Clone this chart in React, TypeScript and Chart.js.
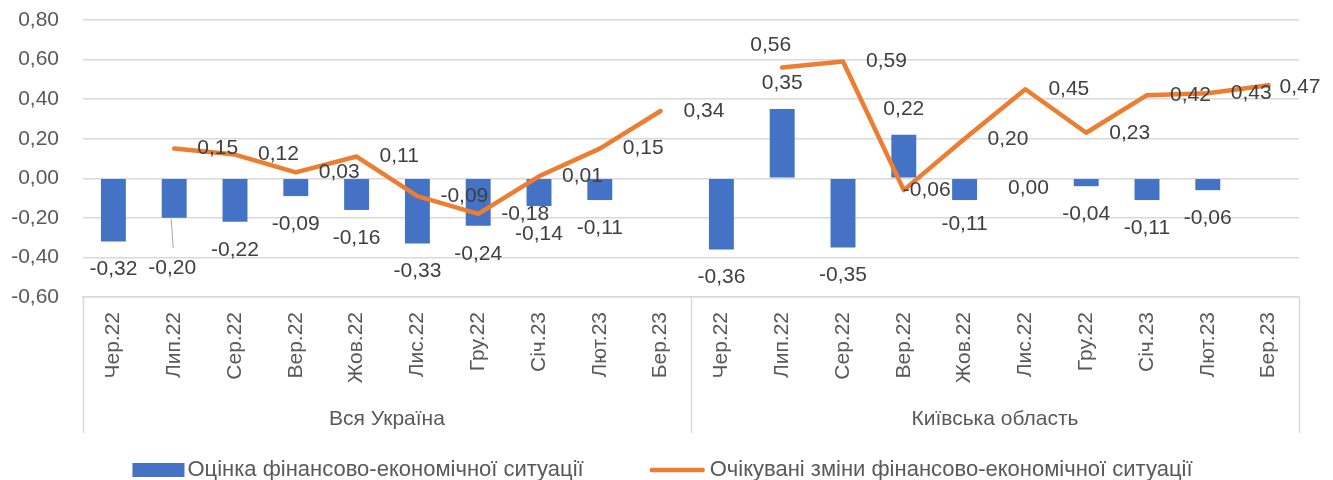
import React, { useEffect, useRef } from "react";
import { Chart, registerables } from "chart.js";

Chart.register(...registerables);

// ---- data ----
const months = ["Чер.22", "Лип.22", "Сер.22", "Вер.22", "Жов.22", "Лис.22", "Гру.22", "Січ.23", "Лют.23", "Бер.23"];
const groups = ["Вся Україна", "Київська область"];
const assessmentUkraine = [-0.32, -0.2, -0.22, -0.09, -0.16, -0.33, -0.24, -0.14, -0.11, null];
const assessmentKyiv = [-0.36, 0.35, -0.35, 0.22, -0.11, 0.0, -0.04, -0.11, -0.06, null];
const expectedUkraine = [null, 0.15, 0.12, 0.03, 0.11, -0.09, -0.18, 0.01, 0.15, 0.34];
const expectedKyiv = [null, 0.56, 0.59, -0.06, 0.2, 0.45, 0.23, 0.42, 0.43, 0.47];
const seriesNames = ["Оцінка фінансово-економічної ситуації", "Очікувані зміни фінансово-економічної ситуації"];
const yMin = -0.6;
const yMax = 0.8;
const yStep = 0.2;

// ---- styles ----
const FONT = "'Liberation Sans', Arial, sans-serif";
const BLUE = "#4472C4";
const ORANGE = "#ED7D31";
const GRID = "#D9D9D9";
const TICK = "#595959";
const LABEL = "#404040";

// label nudges (pixel offsets from default positions)
const barNudge: Record<number, [number, number]> = { 1: [-2, 22], 15: [3, -18], 14: [0, -4] };
const lineNudge: Record<number, [number, number]> = { 11: [-55, -22], 13: [-24, 0], 19: [-12, 2] };

const fmt = (v: number) => v.toFixed(2).replace(".", ",");

const overlayPlugin = {
  id: "overlay",
  afterDatasetsDraw(chart: any) {
    const ctx = chart.ctx;
    ctx.save();
    ctx.font = `21px ${FONT}`;
    ctx.fillStyle = LABEL;
    ctx.textBaseline = "middle";
    // bar labels
    const barData = chart.data.datasets[0].data;
    chart.getDatasetMeta(0).data.forEach((el: any, i: number) => {
      const v = barData[i];
      if (v == null) return;
      let cx = el.x;
      let cy = v > 0 ? el.y - 26 : el.y + 28;
      const n = barNudge[i];
      if (n) {
        cx += n[0];
        cy += n[1];
      }
      ctx.textAlign = "center";
      ctx.fillText(fmt(v), cx, cy);
      if (i === 1) {
        ctx.save();
        ctx.strokeStyle = "#A6A6A6";
        ctx.lineWidth = 1;
        ctx.beginPath();
        ctx.moveTo(cx + 1, cy - 20);
        ctx.lineTo(el.x - 3, el.y + 1);
        ctx.stroke();
        ctx.restore();
      }
    });
    // line labels
    const lineData = chart.data.datasets[1].data;
    chart.getDatasetMeta(1).data.forEach((el: any, i: number) => {
      const v = lineData[i];
      if (v == null) return;
      const t = fmt(v);
      const w = ctx.measureText(t).width;
      let cx = el.x + 23 + w / 2;
      let cy = el.y;
      const n = lineNudge[i];
      if (n) {
        cx += n[0];
        cy += n[1];
      }
      ctx.textAlign = "center";
      ctx.fillText(t, cx, cy);
    });
    ctx.restore();
  },
  afterDraw(chart: any) {
    const ctx = chart.ctx;
    const { chartArea } = chart;
    const xs = chart.scales.x;
    const n = months.length;
    const total = xs.ticks.length;
    const step = (chartArea.right - chartArea.left) / total;
    ctx.save();
    // group dividers
    ctx.strokeStyle = GRID;
    ctx.lineWidth = 1.5;
    for (let g = 0; g <= groups.length; g++) {
      const x = Math.round(chartArea.left + g * n * step) + 0.5;
      ctx.beginPath();
      ctx.moveTo(x, chartArea.bottom);
      ctx.lineTo(x, 433);
      ctx.stroke();
    }
    // group labels
    ctx.font = `21px ${FONT}`;
    ctx.fillStyle = TICK;
    ctx.textAlign = "center";
    ctx.textBaseline = "middle";
    groups.forEach((g, gi) => {
      const cx = chartArea.left + (gi * n + n / 2) * step;
      ctx.fillText(g, cx, 419);
    });
    // legend
    ctx.font = `22px ${FONT}`;
    const w1 = ctx.measureText(seriesNames[0]).width;
    const w2 = ctx.measureText(seriesNames[1]).width;
    const boxW = 52, gap1 = 3, itemGap = 66, lineW = 55, gap2 = 5;
    const totalW = boxW + gap1 + w1 + itemGap + lineW + gap2 + w2;
    let x0 = (chart.width - totalW) / 2 - 4;
    const ly = 470;
    ctx.fillStyle = BLUE;
    ctx.fillRect(x0, ly - 7, boxW, 14);
    ctx.fillStyle = TICK;
    ctx.textAlign = "left";
    ctx.fillText(seriesNames[0], x0 + boxW + gap1, ly);
    x0 += boxW + gap1 + w1 + itemGap;
    ctx.strokeStyle = ORANGE;
    ctx.lineWidth = 4.5;
    ctx.lineCap = "round";
    ctx.beginPath();
    ctx.moveTo(x0 + 2, ly);
    ctx.lineTo(x0 + lineW - 2, ly);
    ctx.stroke();
    ctx.fillStyle = TICK;
    ctx.fillText(seriesNames[1], x0 + lineW + gap2, ly);
    ctx.restore();
  },
};

export default function App() {
  const ref = useRef<HTMLCanvasElement | null>(null);
  useEffect(() => {
    document.body.style.margin = "0";
    const canvas = ref.current;
    if (!canvas) return;
    const labels = groups.flatMap(() => months);
    const chart = new Chart(canvas, {
      type: "bar",
      data: {
        labels,
        datasets: [
          {
            type: "bar",
            label: seriesNames[0],
            data: [...assessmentUkraine, ...assessmentKyiv],
            backgroundColor: BLUE,
            barPercentage: 0.41,
            categoryPercentage: 1,
            order: 1,
          },
          {
            type: "line",
            label: seriesNames[1],
            data: [...expectedUkraine, ...expectedKyiv],
            borderColor: ORANGE,
            backgroundColor: ORANGE,
            borderWidth: 4.5,
            pointRadius: 0,
            tension: 0,
            spanGaps: false,
            borderJoinStyle: "round",
            borderCapStyle: "round",
            order: 0,
          },
        ] as any,
      },
      options: {
        animation: false,
        responsive: false,
        devicePixelRatio: 1,
        layout: { padding: { top: 20, right: 34, left: 0, bottom: 0 } },
        plugins: {
          legend: { display: false },
          tooltip: { enabled: false },
        },
        scales: {
          x: {
            offset: true,
            grid: { display: false, drawTicks: false },
            border: { display: true, color: GRID, width: 1.5 },
            ticks: {
              autoSkip: false,
              maxRotation: 90,
              minRotation: 90,
              padding: 15,
              color: TICK,
              font: { size: 21, family: FONT },
              callback: (_v: any, i: number) => months[i % months.length],
            },
            afterFit: (s: any) => {
              s.height = 183;
              s.paddingLeft = 0;
              s.paddingRight = 0;
            },
          },
          y: {
            min: yMin,
            max: yMax,
            grid: { color: GRID, lineWidth: 1.5, drawTicks: false },
            border: { display: false },
            ticks: {
              stepSize: yStep,
              padding: 24,
              color: TICK,
              font: { size: 21, family: FONT },
              callback: (v: any) => fmt(Number(v)),
            },
            afterFit: (s: any) => {
              s.width = 83;
              s.paddingTop = 0;
              s.paddingBottom = 0;
            },
          },
        },
      },
      plugins: [overlayPlugin],
    });
    return () => chart.destroy();
  }, []);
  return (
    <div style={{ width: 1333, height: 480, position: "relative" }}>
      <canvas ref={ref} width={1333} height={480} style={{ display: "block" }} />
    </div>
  );
}
